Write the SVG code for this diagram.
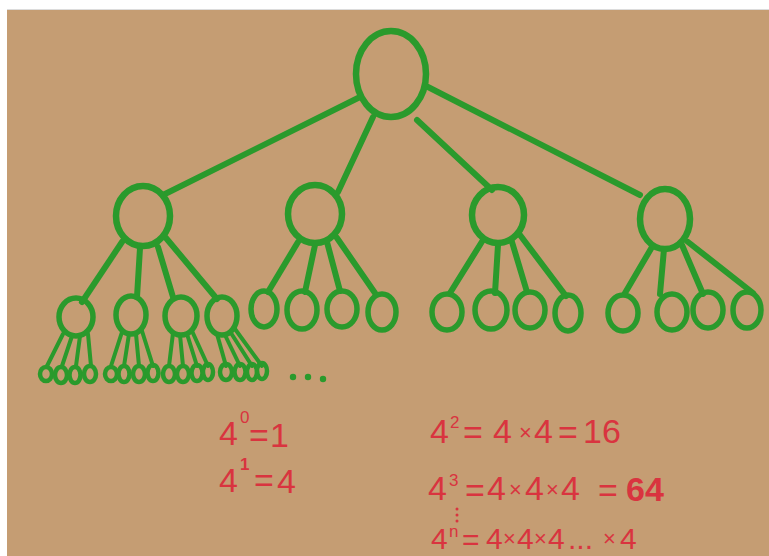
<svg xmlns="http://www.w3.org/2000/svg" width="769" height="556" viewBox="0 0 769 556">
<style>
.n{fill:none;stroke:#2a9a2c;stroke-width:6.5;}
.s{fill:none;stroke:#2a9a2c;stroke-width:5.5;}
.l{fill:none;stroke:#2a9a2c;stroke-width:4.5;}
.c{stroke:#2a9a2c;stroke-width:6;stroke-linecap:round;fill:none;}
.cs{stroke:#2a9a2c;stroke-width:4;stroke-linecap:round;fill:none;}
.t{fill:#d9343f;font-family:"Liberation Sans",Arial,sans-serif;font-size:34px;}
.b{fill:#d9343f;font-family:"Liberation Sans",Arial,sans-serif;font-size:30px;}
.sup{fill:#d9343f;font-family:"Liberation Sans",Arial,sans-serif;font-size:17px;}
.x{fill:#d9343f;font-family:"Liberation Sans",Arial,sans-serif;font-size:22px;}
</style>
<rect x="0" y="0" width="769" height="556" fill="#ffffff"/>
<rect x="7" y="10" width="762" height="546" fill="#c59d73"/>
<line x1="7" y1="9.5" x2="769" y2="9.5" stroke="#dcdcdc" stroke-width="1"/>

<g id="connectors">
  <line class="c" x1="360" y1="97" x2="163" y2="195"/>
  <line class="c" x1="373" y1="117" x2="338" y2="192"/>
  <line class="c" x1="417" y1="120" x2="492" y2="190"/>
  <line class="c" x1="428" y1="87" x2="640" y2="195"/>
  <line class="c" x1="122" y1="242" x2="82" y2="302"/>
  <line class="c" x1="140" y1="248" x2="137" y2="297"/>
  <line class="c" x1="158" y1="247" x2="173" y2="297"/>
  <line class="c" x1="166" y1="238" x2="217" y2="299"/>
  <line class="c" x1="298" y1="242" x2="268" y2="292"/>
  <line class="c" x1="315" y1="245" x2="305" y2="292"/>
  <line class="c" x1="327" y1="242" x2="340" y2="291"/>
  <line class="c" x1="337" y1="238" x2="375" y2="293"/>
  <line class="c" x1="483" y1="240" x2="450" y2="293"/>
  <line class="c" x1="498" y1="245" x2="495" y2="293"/>
  <line class="c" x1="512" y1="242" x2="527" y2="292"/>
  <line class="c" x1="520" y1="235" x2="566" y2="296"/>
  <line class="c" x1="652" y1="247" x2="625" y2="293"/>
  <line class="c" x1="664" y1="249" x2="660" y2="294"/>
  <line class="c" x1="682" y1="245" x2="703" y2="294"/>
  <line class="c" x1="688" y1="242" x2="753" y2="293"/>
  <line class="cs" x1="63" y1="334" x2="47" y2="366"/>
  <line class="cs" x1="72" y1="336" x2="62" y2="366"/>
  <line class="cs" x1="80" y1="336" x2="76" y2="366"/>
  <line class="cs" x1="88" y1="334" x2="91" y2="366"/>
  <line class="cs" x1="122" y1="332" x2="111" y2="366"/>
  <line class="cs" x1="129" y1="334" x2="124" y2="366"/>
  <line class="cs" x1="136" y1="334" x2="139" y2="366"/>
  <line class="cs" x1="142" y1="331" x2="153" y2="366"/>
  <line class="cs" x1="173" y1="333" x2="169" y2="366"/>
  <line class="cs" x1="180" y1="335" x2="183" y2="366"/>
  <line class="cs" x1="187" y1="334" x2="197" y2="366"/>
  <line class="cs" x1="192" y1="331" x2="208" y2="366"/>
  <line class="cs" x1="217" y1="334" x2="226" y2="366"/>
  <line class="cs" x1="225" y1="335" x2="240" y2="366"/>
  <line class="cs" x1="231" y1="333" x2="252" y2="366"/>
  <line class="cs" x1="235" y1="329" x2="262" y2="366"/>
</g>

<g id="root"><ellipse class="n" cx="391" cy="74" rx="35" ry="43"/></g>

<g id="nA"><ellipse class="n" cx="143" cy="216" rx="27" ry="30"/></g>
<g id="nB"><ellipse class="n" cx="315" cy="214" rx="27" ry="29"/></g>
<g id="nC"><ellipse class="n" cx="498" cy="215" rx="26" ry="28"/></g>
<g id="nD"><ellipse class="n" cx="665" cy="219" rx="25" ry="30"/></g>

<g id="nA1"><ellipse class="s" cx="76" cy="317" rx="17" ry="19"/></g>
<g id="nA2"><ellipse class="s" cx="131" cy="315" rx="15" ry="19"/></g>
<g id="nA3"><ellipse class="s" cx="181" cy="316" rx="16" ry="19"/></g>
<g id="nA4"><ellipse class="s" cx="222" cy="316" rx="15" ry="19"/></g>

<g id="nB1"><ellipse class="s" cx="264" cy="309" rx="13" ry="18"/></g>
<g id="nB2"><ellipse class="s" cx="302" cy="310" rx="15" ry="19"/></g>
<g id="nB3"><ellipse class="s" cx="342" cy="309" rx="15" ry="18"/></g>
<g id="nB4"><ellipse class="s" cx="382" cy="312" rx="14" ry="18"/></g>

<g id="nC1"><ellipse class="s" cx="447" cy="312" rx="15" ry="18"/></g>
<g id="nC2"><ellipse class="s" cx="491" cy="310" rx="16" ry="19"/></g>
<g id="nC3"><ellipse class="s" cx="530" cy="310" rx="15" ry="18"/></g>
<g id="nC4"><ellipse class="s" cx="568" cy="313" rx="13" ry="18"/></g>

<g id="nD1"><ellipse class="s" cx="623" cy="313" rx="15" ry="18"/></g>
<g id="nD2"><ellipse class="s" cx="672" cy="312" rx="15" ry="18"/></g>
<g id="nD3"><ellipse class="s" cx="708" cy="310" rx="15" ry="18"/></g>
<g id="nD4"><ellipse class="s" cx="747" cy="310" rx="14" ry="18"/></g>

<g id="leavesA1">
  <ellipse class="l" cx="46" cy="374" rx="6" ry="7"/>
  <ellipse class="l" cx="61" cy="375" rx="6" ry="8"/>
  <ellipse class="l" cx="75" cy="375" rx="5.5" ry="8"/>
  <ellipse class="l" cx="90" cy="374" rx="6" ry="8"/>
</g>
<g id="leavesA2">
  <ellipse class="l" cx="111" cy="374" rx="6" ry="7"/>
  <ellipse class="l" cx="124" cy="374" rx="5.5" ry="8"/>
  <ellipse class="l" cx="139" cy="374" rx="6" ry="8"/>
  <ellipse class="l" cx="153" cy="373" rx="5.5" ry="8"/>
</g>
<g id="leavesA3">
  <ellipse class="l" cx="169" cy="374" rx="6" ry="8"/>
  <ellipse class="l" cx="183" cy="374" rx="6" ry="8"/>
  <ellipse class="l" cx="197" cy="373" rx="5.5" ry="8"/>
  <ellipse class="l" cx="208" cy="372" rx="5" ry="8"/>
</g>
<g id="leavesA4">
  <ellipse class="l" cx="226" cy="372" rx="6" ry="8"/>
  <ellipse class="l" cx="240" cy="372" rx="5.5" ry="8"/>
  <ellipse class="l" cx="252" cy="372" rx="5" ry="8"/>
  <ellipse class="l" cx="262" cy="371" rx="5" ry="8"/>
</g>

<g id="ellipsis" fill="#2a9a2c">
  <circle cx="293" cy="377" r="3.2"/>
  <circle cx="308" cy="377" r="3.2"/>
  <circle cx="323" cy="379" r="3.2"/>
</g>

<g id="formulas">
  <text class="t" x="219" y="445">4</text>
  <text class="sup" x="240" y="423">0</text>
  <text class="t" x="249" y="447">=</text>
  <text class="t" x="270" y="447">1</text>

  <text class="t" x="219" y="492">4</text>
  <text class="sup" x="240" y="470" font-weight="bold">1</text>
  <text class="t" x="254" y="492">=</text>
  <text class="t" x="277" y="493">4</text>

  <text class="t" x="430" y="443">4</text>
  <text class="sup" x="450" y="428">2</text>
  <text class="t" x="463" y="444">=</text>
  <text class="t" x="493" y="443">4</text>
  <text class="x" x="519" y="440">×</text>
  <text class="t" x="534" y="443">4</text>
  <text class="t" x="558" y="444">=</text>
  <text class="t" x="583" y="443">16</text>

  <text class="t" x="428" y="500">4</text>
  <text class="sup" x="449" y="486">3</text>
  <text class="t" x="465" y="502">=</text>
  <text class="t" x="487" y="500">4</text>
  <text class="x" x="509" y="497">×</text>
  <text class="t" x="525" y="500">4</text>
  <text class="x" x="546" y="497">×</text>
  <text class="t" x="561" y="500">4</text>
  <text class="t" x="598" y="502">=</text>
  <text class="t" x="626" y="501" font-weight="bold" font-size="38">64</text>

  <g fill="#d9343f">
    <circle cx="457" cy="509" r="1.5"/>
    <circle cx="457" cy="515" r="1.5"/>
    <circle cx="457" cy="521" r="1.5"/>
  </g>

  <text class="b" x="431" y="549">4</text>
  <text class="sup" x="449" y="537">n</text>
  <text class="b" x="462" y="550">=</text>
  <text class="b" x="486" y="549">4</text>
  <text class="x" x="503" y="546">×</text>
  <text class="b" x="517" y="549">4</text>
  <text class="x" x="534" y="546">×</text>
  <text class="b" x="548" y="549">4</text>
  <text class="b" x="568" y="549">...</text>
  <text class="x" x="603" y="546">×</text>
  <text class="b" x="620" y="549">4</text>
</g>
</svg>
